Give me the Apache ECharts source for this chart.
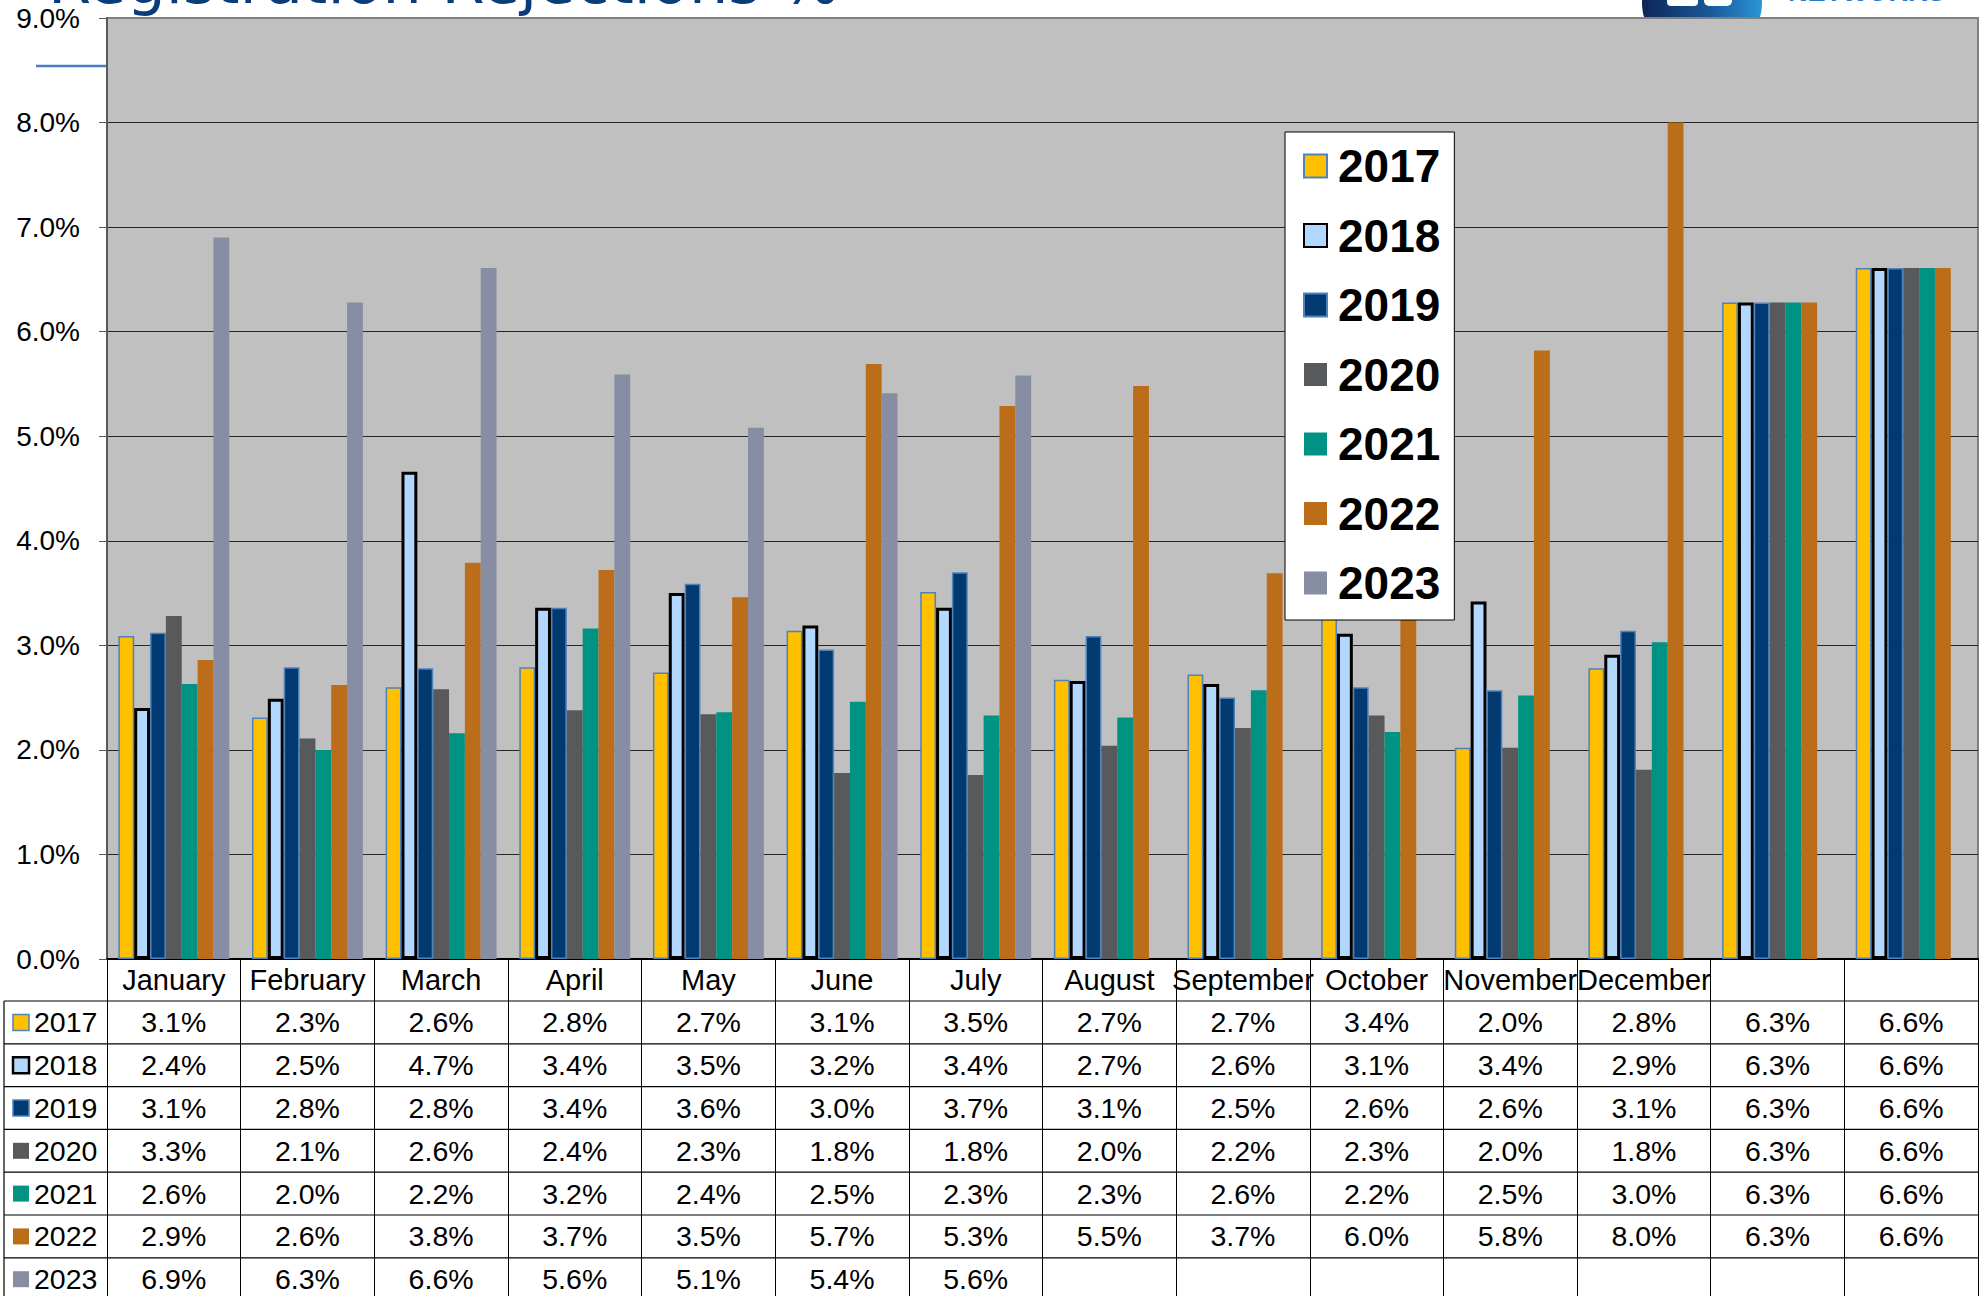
<!DOCTYPE html>
<html>
<head>
<meta charset="utf-8">
<script src="https://cdn.jsdelivr.net/npm/echarts@6/dist/echarts.min.js"></script>
<style>
html,body{margin:0;padding:0;background:#fff;}
#c{width:1980px;height:1296px;}
</style>
</head>
<body>
<div id="c"></div>
<script>
// ---------- data ----------
const categories = ['January','February','March','April','May','June','July','August','September','October','November','December','',''];
const years = ['2017','2018','2019','2020','2021','2022','2023'];
const v2017 = [3.09, 2.31, 2.60, 2.79, 2.74, 3.14, 3.51, 2.67, 2.72, 3.40, 2.02, 2.78, 6.28, 6.61];
const v2018 = [2.40, 2.49, 4.66, 3.36, 3.50, 3.19, 3.36, 2.66, 2.63, 3.11, 3.42, 2.91, 6.28, 6.61];
const v2019 = [3.12, 2.79, 2.78, 3.36, 3.59, 2.96, 3.70, 3.09, 2.50, 2.60, 2.57, 3.14, 6.28, 6.61];
const v2020 = [3.28, 2.11, 2.58, 2.38, 2.34, 1.78, 1.76, 2.04, 2.21, 2.33, 2.02, 1.81, 6.28, 6.61];
const v2021 = [2.63, 2.00, 2.16, 3.16, 2.36, 2.46, 2.33, 2.31, 2.57, 2.17, 2.52, 3.03, 6.28, 6.61];
const v2022 = [2.86, 2.62, 3.79, 3.72, 3.46, 5.69, 5.29, 5.48, 3.69, 6.00, 5.82, 8.00, 6.28, 6.61];
const v2023 = [6.90, 6.28, 6.61, 5.59, 5.08, 5.41, 5.58, null, null, null, null, null, null, null];
const yMin = 0, yMax = 9, yStep = 1;
const titleText = 'Registration Rejections %';
const logoText = 'NETWORKS';

// ---------- styles ----------
const seriesValues = [v2017, v2018, v2019, v2020, v2021, v2022, v2023];
const seriesStyles = [
  {color:'#FFC000', borderColor:'#4F81BD', borderWidth:1.5},
  {color:'#B3D8FF', borderColor:'#000000', borderWidth:3},
  {color:'#003A70', borderColor:'#4F81BD', borderWidth:1.5},
  {color:'#58595B', borderColor:'#58595B', borderWidth:0},
  {color:'#009384', borderColor:'#009384', borderWidth:0},
  {color:'#BB6D19', borderColor:'#BB6D19', borderWidth:0},
  {color:'#878EA4', borderColor:'#878EA4', borderWidth:0}
];
const FONT = '"Liberation Sans", Arial, sans-serif';
const GRID = {left:107, right:2, top:18, bottom:337};
const TABLE = {headerTop:959, headerBottom:1001, rowH:42.8, left:4, right:1978, bottomEdge:1296};

const chart = echarts.init(document.getElementById('c'), null, {renderer:'svg', width:1980, height:1296});

const series = years.map((y, i) => ({
  name: y,
  type: 'bar',
  data: seriesValues[i],
  barGap: '0%',
  barCategoryGap: '17%',
  itemStyle: Object.assign({}, seriesStyles[i]),
  emphasis: {disabled: true}
}));

chart.setOption({
  animation: false,
  backgroundColor: '#ffffff',
  grid: Object.assign({show:true, backgroundColor:'#C0C0C0', borderColor:'#808080', borderWidth:2, containLabel:false}, GRID),
  xAxis: {
    type: 'category',
    data: categories,
    axisLine: {show:true, lineStyle:{color:'#000000', width:2}},
    axisTick: {show:true, interval:0, length: TABLE.bottomEdge - TABLE.headerTop, lineStyle:{color:'#000000', width:1}},
    axisLabel: {show:false, interval:0},
    splitLine: {show:false}
  },
  yAxis: {
    type: 'value',
    min: yMin, max: yMax, interval: yStep,
    axisLine: {show:true, lineStyle:{color:'#595959', width:2}},
    axisTick: {show:true, length:8, lineStyle:{color:'#595959', width:1}},
    axisLabel: {formatter: v => v.toFixed(1) + '%', fontSize:28, color:'#000', margin:27, fontFamily:FONT},
    splitLine: {show:true, showMaxLine:false, lineStyle:{color:'#262626', width:1}}
  },
  legend: {
    data: years,
    orient: 'vertical',
    left: 1285, top: 132,
    padding: [11, 14, 14, 18],
    itemWidth: 23, itemHeight: 23, itemGap: 23.5,
    icon: 'rect',
    backgroundColor: '#ffffff',
    borderColor: '#000000', borderWidth: 1,
    selectedMode: false,
    textStyle: {fontSize:46, fontWeight:'bold', color:'#000', fontFamily:FONT, lineHeight:46, padding:[0,0,0,6]}
  },
  series: series
});

// ---------- table, title and decorations ----------
function buildGraphics() {
  const els = [];
  const cx = categories.map((c, i) => chart.convertToPixel({xAxisIndex:0}, i));
  const font28 = FONT;
  // header months
  categories.forEach((c, i) => {
    if (!c) return;
    els.push({type:'text', x:cx[i], y:(TABLE.headerTop + TABLE.headerBottom)/2, silent:true,
      style:{text:c, fill:'#000', fontSize:29, fontFamily:font28, align:'center', verticalAlign:'middle', textAlign:'center', textVerticalAlign:'middle'}});
  });
  // horizontal lines
  for (let k = 0; k < years.length; k++) {
    const y = TABLE.headerBottom + k * TABLE.rowH;
    els.push({type:'line', silent:true, shape:{x1:TABLE.left, y1:y, x2:TABLE.right, y2:y}, style:{stroke:'#000', lineWidth:1.2}});
  }
  // left border
  els.push({type:'line', silent:true, shape:{x1:TABLE.left, y1:TABLE.headerBottom, x2:TABLE.left, y2:TABLE.bottomEdge}, style:{stroke:'#000', lineWidth:1.2}});
  // rows
  years.forEach((yr, k) => {
    const cy = TABLE.headerBottom + (k + 0.5) * TABLE.rowH;
    const st = seriesStyles[k];
    els.push({type:'rect', silent:true, shape:{x:13, y:cy-8, width:16, height:16},
      style:{fill:st.color, stroke: st.borderWidth ? st.borderColor : null, lineWidth: st.borderWidth ? (st.borderWidth > 2 ? 2.5 : 1.5) : 0}});
    els.push({type:'text', x:34, y:cy, silent:true,
      style:{text:yr, fill:'#000', fontSize:28.5, fontFamily:font28, align:'left', verticalAlign:'middle', textAlign:'left', textVerticalAlign:'middle'}});
    seriesValues[k].forEach((v, i) => {
      if (v === null || v === undefined) return;
      els.push({type:'text', x:cx[i], y:cy, silent:true,
        style:{text:v.toFixed(1) + '%', fill:'#000', fontSize:28.5, fontFamily:font28, align:'center', verticalAlign:'middle', textAlign:'center', textVerticalAlign:'middle'}});
    });
  });
  // top-left blue line
  els.push({type:'line', silent:true, shape:{x1:36, y1:66, x2:106, y2:66}, style:{stroke:'#4A7EC0', lineWidth:2.5}});
  // title (cut off at top)
  els.push({type:'text', x:48, y:-19, silent:true,
    style:{text:titleText, fill:'#0B3C7A', fontSize:62, fontFamily:'"DejaVu Sans", sans-serif', align:'left', verticalAlign:'middle', textAlign:'left', textVerticalAlign:'middle'}});
  // logo circle (visible part above plot)
  const pts = [];
  const ccx = 1702, ccy = 2, r = 60, clipY = 17;
  for (let a = 0; a <= 360; a += 3) {
    const rad = a * Math.PI / 180;
    let px = ccx + r * Math.cos(rad), py = ccy + r * Math.sin(rad);
    if (py > clipY) py = clipY;
    pts.push([px, py]);
  }
  els.push({type:'polygon', silent:true, shape:{points:pts},
    style:{fill:new echarts.graphic.LinearGradient(0,0,1,0,[{offset:0,color:'#0B2655'},{offset:0.6,color:'#1A5C9E'},{offset:1,color:'#2C95D6'}])}});
  els.push({type:'rect', silent:true, shape:{x:1667, y:-4, width:31, height:10, r:4}, style:{fill:'#ffffff'}});
  els.push({type:'rect', silent:true, shape:{x:1704, y:-6, width:28, height:12, r:5}, style:{fill:'#ffffff'}});
  els.push({type:'text', x:1788, y:-8, silent:true,
    style:{text:logoText, fill:'#2A7DC4', fontSize:27, fontWeight:'bold', fontFamily:FONT, align:'left', verticalAlign:'middle', textAlign:'left', textVerticalAlign:'middle'}});
  chart.setOption({graphic:{elements:els}});
}
buildGraphics();
</script>
</body>
</html>
